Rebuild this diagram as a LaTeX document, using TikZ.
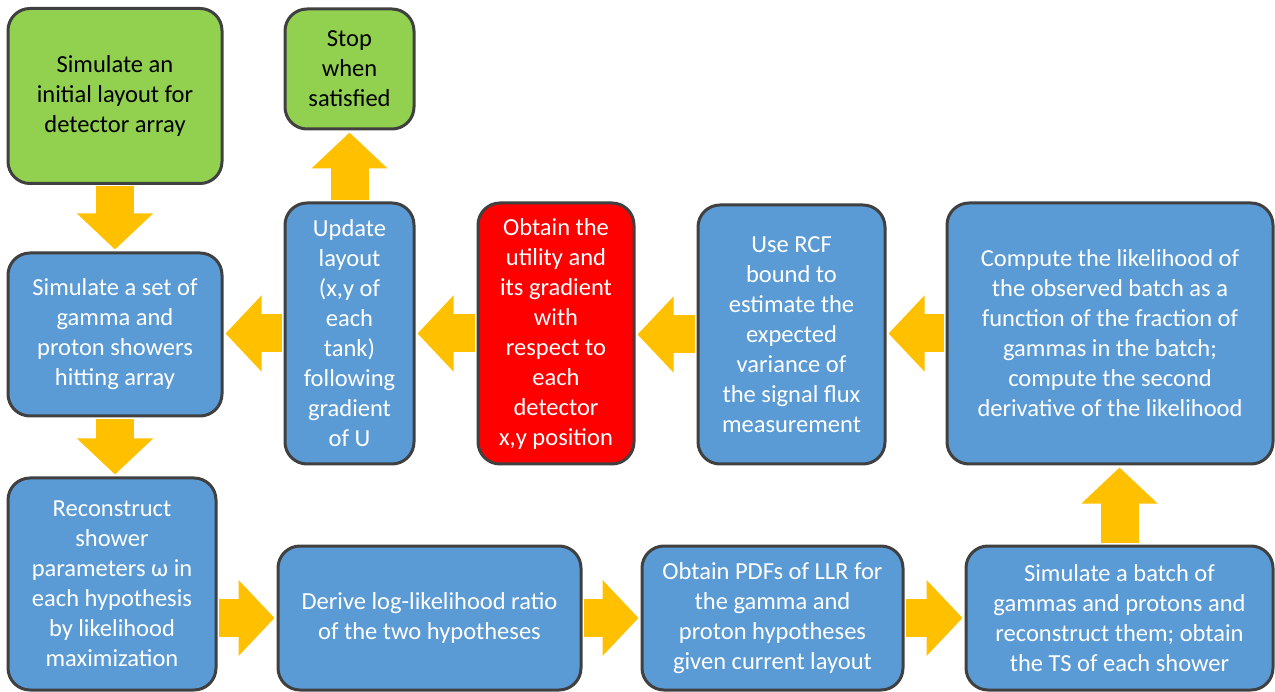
\documentclass[tikz,border=0pt]{standalone}
\usepackage{fontspec}
\setmainfont{Carlito}
\usetikzlibrary{positioning,calc,arrows.meta}
\definecolor{stepgreen}{HTML}{92D050}
\definecolor{stepblue}{HTML}{5B9BD5}
\definecolor{stepred}{HTML}{FF0000}
\definecolor{rimgray}{HTML}{404040}
\definecolor{flowgold}{HTML}{FFC000}

\begin{document}
\begin{tikzpicture}[x=1pt,y=-1pt,font=\fontsize{24.5}{30}\selectfont,
    box/.style={draw=rimgray,line width=3pt,rounded corners=22pt,align=center,inner sep=0pt},
    gbox/.style={box,fill=stepgreen,text=black},
    bbox/.style={box,fill=stepblue,text=white},
    rbox/.style={box,fill=stepred,text=white},
    flow/.style={draw=flowgold,line width=38pt,shorten <=1.5pt,shorten >=2pt,-{Triangle[length=36pt,width=74pt]}}]
  \useasboundingbox (0,0) rectangle (1275,692);
  % top row
  \node[gbox,minimum width=214pt,minimum height=175pt] (init) at (115,96) {Simulate an\\initial layout for\\detector array};
  \node[gbox,minimum width=129pt,minimum height=120pt] (stop) at (349.5,69) {Stop\\when\\satisfied};
  % middle row
  \node[bbox,minimum width=214pt,minimum height=163pt] (sim) at (115,334.5) {Simulate a set of\\gamma and\\proton showers\\hitting array};
  \node[bbox,minimum width=129pt,minimum height=261pt] (upd) at (349.5,333.5) {Update\\layout\\(x,y of\\each\\tank)\\following\\gradient\\of U};
  \node[rbox,minimum width=156pt,minimum height=261pt] (util) at (556,333.5) {Obtain the\\utility and\\its gradient\\with\\respect to\\each\\detector\\x,y position};
  \node[bbox,minimum width=187pt,minimum height=259pt] (rcf) at (791.5,334.5) {Use RCF\\bound to\\estimate the\\expected\\variance of\\the signal flux\\measurement};
  \node[bbox,minimum width=326pt,minimum height=261pt] (lik) at (1110,333.5) {Compute the likelihood of\\the observed batch as a\\function of the fraction of\\gammas in the batch;\\compute the second\\derivative of the likelihood};
  % bottom row
  \node[bbox,minimum width=208pt,minimum height=212pt] (reco) at (112,584) {Reconstruct\\shower\\parameters ω in\\each hypothesis\\by likelihood\\maximization};
  \node[bbox,minimum width=303pt,minimum height=144pt] (llr) at (429.5,618) {Derive log-likelihood ratio\\of the two hypotheses};
  \node[bbox,minimum width=261pt,minimum height=144pt] (pdf) at (772.5,618) {Obtain PDFs of LLR for\\the gamma and\\proton hypotheses\\given current layout};
  \node[bbox,minimum width=307pt,minimum height=144pt] (batch) at (1119.5,618) {Simulate a batch of\\gammas and protons and\\reconstruct them; obtain\\the TS of each shower};
  % arrows
  \draw[flow] (init.south) -- (sim.north);
  \draw[flow] (sim.south) -- (sim.south |- reco.north);
  \draw[flow] (reco.east |- llr.west) -- (llr.west);
  \draw[flow] (llr.east) -- (pdf.west);
  \draw[flow] (pdf.east) -- (batch.west);
  \draw[flow] (batch.north) -- (batch.north |- lik.south);
  \draw[flow] (lik.west) -- (lik.west -| rcf.east);
  \draw[flow] (rcf.west) -- (rcf.west -| util.east);
  \draw[flow] (util.west) -- (upd.east);
  \draw[flow] (upd.west) -- (upd.west -| sim.east);
  \draw[flow] (upd.north) -- (stop.south);
\end{tikzpicture}
\end{document}
